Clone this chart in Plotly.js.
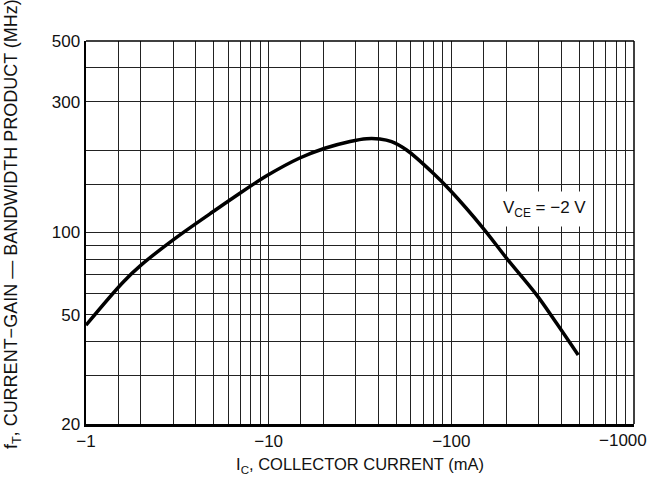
<!DOCTYPE html>
<html>
<head>
<meta charset="utf-8">
<script src="https://cdn.plot.ly/plotly-3.0.1.min.js"></script>
<style>html,body{margin:0;padding:0;background:#fff;}#chart{width:657px;height:482px;}</style>
</head>
<body>
<div id="chart"></div>
<script>
// Collector current magnitude (mA); axis labels show negative values
const icMag = [1, 1.6, 2, 3, 4.77, 6.4, 9.75, 14.8, 20.3, 27.9, 34.4, 40.6, 47.1, 56.9, 79.6, 98.2, 149.5, 200.9, 293, 377, 495];
// Current-gain bandwidth product fT (MHz)
const fT = [45.9, 66, 76, 94, 117, 134, 161, 187, 203, 215, 220, 219.4, 214.6, 200, 164.5, 142.9, 103.6, 80.5, 59.2, 46.6, 35.7];

const xGrid = [1,1.5,2,3,4,5,6,7,8,9,10,15,20,30,40,50,60,70,80,90,100,150,200,300,400,500,600,700,800,900,1000];
const xLabeled = {1:'\u22121', 10:'\u221210', 100:'\u2212100'};
const xEndLabel = '\u22121000';
const yGrid = [20,30,40,50,60,70,80,90,100,150,200,300,400,500];
const yLabeled = {20:'20', 50:'50', 100:'100', 300:'300', 500:'500'};

const xText = xGrid.map(v => xLabeled[v] || '');
const yText = yGrid.map(v => yLabeled[v] || '');

const FONT = "'Liberation Sans', Arial, sans-serif";
const TXT = '#111';

const trace = {
  x: icMag, y: fT, type: 'scatter', mode: 'lines',
  line: {color: '#000', width: 3.5, shape: 'spline', smoothing: 1},
  hoverinfo: 'skip'
};

const layout = {
  width: 657, height: 482,
  margin: {l: 86, r: 23, t: 41, b: 58},
  paper_bgcolor: '#fff', plot_bgcolor: '#fff',
  showlegend: false,
  font: {family: FONT, color: TXT, size: 17},
  xaxis: {
    type: 'log', range: [0, 3.0001],
    tickmode: 'array', tickvals: xGrid, ticktext: xText,
    showgrid: true, gridcolor: '#222', gridwidth: 1,
    ticks: '', zeroline: false,
    showline: true, linecolor: '#000', linewidth: 2.5,
    tickfont: {family: FONT, size: 17, color: TXT},
    title: {text: 'I<sub>C</sub>, COLLECTOR CURRENT (mA)', font: {family: FONT, size: 16.5, color: TXT}, standoff: 9}
  },
  yaxis: {
    type: 'log', range: [Math.log10(20) - 0.0001, Math.log10(500) + 0.0001],
    tickmode: 'array', tickvals: yGrid, ticktext: yText,
    showgrid: true, gridcolor: '#222', gridwidth: 1,
    ticks: '', zeroline: false,
    showline: true, linecolor: '#000', linewidth: 2.5,
    tickfont: {family: FONT, size: 17, color: TXT}
  },
  shapes: [
    {type: 'line', xref: 'paper', yref: 'paper', x0: 0, x1: 1, y0: 1, y1: 1, line: {color: '#000', width: 1.5}},
    {type: 'line', xref: 'paper', yref: 'paper', x0: 1, x1: 1, y0: 0, y1: 1, line: {color: '#000', width: 1.5}}
  ],
  annotations: [{
    xref: 'paper', yref: 'paper', x: 0.836, y: 0.561,
    xanchor: 'center', yanchor: 'middle',
    text: 'V<sub>CE</sub> = \u22122 V', showarrow: false,
    bgcolor: '#fff', borderpad: 6,
    font: {family: FONT, size: 17, color: TXT}
  }, {
    xref: 'paper', yref: 'paper', x: 0.98, y: 0, yshift: -16,
    xanchor: 'center', yanchor: 'middle',
    text: xEndLabel, showarrow: false,
    font: {family: FONT, size: 17, color: TXT}
  }, {
    xref: 'paper', yref: 'paper', x: -0.135, y: 0.522,
    xanchor: 'center', yanchor: 'middle', textangle: -90,
    text: 'f<sub>T</sub>, CURRENT\u2212GAIN \u2014 BANDWIDTH PRODUCT (MHz)', showarrow: false,
    font: {family: FONT, size: 18, color: TXT}
  }]
};

Plotly.newPlot('chart', [trace], layout, {displayModeBar: false, staticPlot: true});
</script>
</body>
</html>
